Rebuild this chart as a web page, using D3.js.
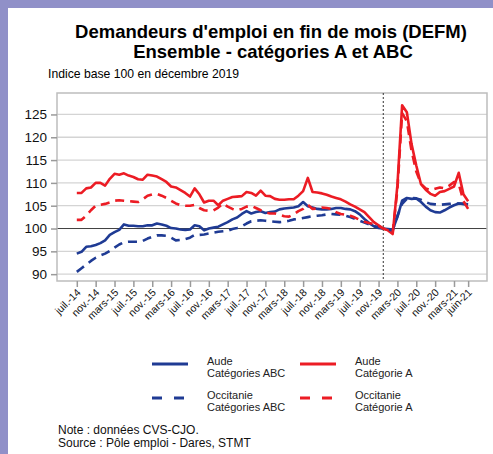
<!DOCTYPE html>
<html>
<head>
<meta charset="utf-8">
<script src="https://cdn.jsdelivr.net/npm/d3@7"></script>
<style>
  body { margin: 0; background: #fff; }
  svg { display: block; font-family: "Liberation Sans", Arial, sans-serif; }
</style>
</head>
<body>
<svg id="chart" width="493" height="454"></svg>
<script>
// monthly values, juil.-14 (index 0) to juin-21 (index 83)
const audeABC = [
  94.5, 94.9, 96.0, 96.1, 96.4, 96.8, 97.4, 98.6, 99.2, 99.7,
  100.9, 100.6, 100.6, 100.5, 100.5, 100.7, 100.7, 101.1, 100.9, 100.6,
  100.1, 100.0, 99.8, 99.7, 99.8, 100.7, 100.5, 99.6, 100.0, 100.2,
  100.4, 100.9, 101.4, 102.0, 102.4, 103.2, 103.8, 103.3, 103.6, 103.8,
  103.4, 103.6, 103.7, 104.2, 104.4, 104.5, 104.6, 104.9, 105.8, 104.9,
  104.6, 104.3, 104.2, 104.2, 104.3, 104.5, 104.5, 104.3, 104.2, 103.8,
  103.1, 102.1, 101.2, 100.5, 100.1, 100.0, 99.9, 99.8, 102.5, 106.1,
  106.7, 106.5, 106.6, 105.8, 104.8, 104.0, 103.6, 103.5, 104.0, 104.6,
  105.1, 105.5, 105.4, 105.3
];
const audeA = [
  107.8, 107.8, 108.8, 109.0, 110.0, 110.0, 109.4, 110.9, 112.0, 111.8,
  112.1, 111.6, 111.3, 110.8, 110.7, 111.8, 111.6, 111.4, 110.8, 110.2,
  109.2, 109.0, 108.4, 107.8, 107.0, 108.8, 107.5, 105.7, 106.1, 106.1,
  105.1, 106.1, 106.5, 106.9, 107.0, 107.1, 108.0, 107.8, 107.2, 108.3,
  107.2, 107.1, 106.5, 106.3, 106.3, 106.4, 106.4, 107.2, 108.2, 111.1,
  108.0, 107.9, 107.7, 107.4, 107.0, 106.7, 106.4, 105.9, 105.3, 104.8,
  104.2, 103.6, 102.5, 101.4, 100.7, 100.0, 99.6, 98.8, 109.5, 127.0,
  125.5, 118.5, 113.8, 109.7, 108.5, 107.6, 107.2, 108.0, 108.2, 108.7,
  109.2, 112.2, 107.5, 106.0
];
const occitanieABC = [
  90.5, 91.3, 92.1, 92.9, 93.6, 94.1, 94.5, 95.1, 95.8, 96.5,
  97.0, 97.1, 97.1, 97.1, 97.3, 97.8, 98.2, 98.5, 98.5, 98.4,
  98.0, 97.4, 97.5, 97.7, 98.0, 98.6, 98.6, 98.7, 98.9, 99.1,
  99.3, 99.4, 99.5, 99.9, 100.1, 100.5, 101.1, 101.6, 101.7, 101.8,
  101.7, 101.6, 101.5, 101.4, 101.5, 101.7, 102.0, 102.1, 102.3, 102.5,
  102.7, 102.8, 102.9, 103.1, 103.2, 103.1, 103.0, 102.8, 102.5, 102.1,
  101.7, 101.3, 100.9, 100.5, 100.3, 100.0, 99.8, 99.6, 102.8, 105.4,
  106.5, 106.7, 106.6, 106.3, 105.8, 105.4, 105.3, 105.2, 105.3, 105.4,
  105.5, 105.5, 105.4, 105.3
];
const occitanieA = [
  101.9, 101.9, 102.8, 104.0, 105.0, 105.2, 105.4, 105.7, 106.1, 106.2,
  106.1, 106.0, 105.9, 105.8, 106.4, 107.2, 107.5, 107.6, 107.2, 106.7,
  106.1, 105.5, 105.1, 105.0, 105.0, 105.2, 104.5, 104.0, 103.9, 104.0,
  104.6, 105.5, 104.8, 104.3, 104.0, 104.3, 104.8, 105.0, 104.5, 104.0,
  103.6, 103.3, 103.3, 103.0, 102.7, 102.6, 103.1, 103.8, 104.3, 105.2,
  104.3, 104.4, 104.6, 104.5, 104.3, 103.6, 103.2, 103.0, 102.8, 102.4,
  101.9, 101.5, 101.2, 101.0, 100.6, 100.0, 99.6, 99.2, 108.5, 125.3,
  123.5, 117.0, 112.5, 109.8, 108.8, 108.4, 108.7, 109.0, 108.8, 109.4,
  110.2, 109.8, 106.0, 104.3
];

const tickMonths = [0, 4, 8, 12, 16, 20, 24, 28, 32, 36, 40, 44, 48, 52, 56, 60, 64, 68, 72, 76, 80, 83];
const tickLabels = ['juil.-14', 'nov.-14', 'mars-15', 'juil.-15', 'nov.-15', 'mars-16', 'juil.-16',
  'nov.-16', 'mars-17', 'juil.-17', 'nov.-17', 'mars-18', 'juil.-18', 'nov.-18', 'mars-19',
  'juil.-19', 'nov.-19', 'mars-20', 'juil.-20', 'nov.-20', 'mars-21', 'juin-21'];
const yTicks = [90, 95, 100, 105, 110, 115, 120, 125];
const baseMonth = 65; // déc.-19

const blue = '#1f3b94';
const red = '#ec1c24';

const series = [
  { name: 'Aude', cat: 'Catégories ABC', values: audeABC, color: blue, dash: null },
  { name: 'Aude', cat: 'Catégorie A', values: audeA, color: red, dash: null },
  { name: 'Occitanie', cat: 'Catégories ABC', values: occitanieABC, color: blue, dash: '9,6' },
  { name: 'Occitanie', cat: 'Catégorie A', values: occitanieA, color: red, dash: '9,6' }
];

const svg = d3.select('#chart');

// purple page frame
svg.append('rect').attr('width', 493).attr('height', 454).attr('fill', '#9090c8');
svg.append('rect').attr('x', 8).attr('y', 8).attr('width', 485).attr('height', 446).attr('fill', '#fff');

// titles
svg.append('text').attr('x', 271).attr('y', 38).attr('text-anchor', 'middle')
  .attr('font-size', 18.5).attr('font-weight', 'bold').text("Demandeurs d'emploi en fin de mois (DEFM)");
svg.append('text').attr('x', 273).attr('y', 58).attr('text-anchor', 'middle')
  .attr('font-size', 18.5).attr('font-weight', 'bold').text('Ensemble - catégories A et ABC');
svg.append('text').attr('x', 48).attr('y', 78).attr('font-size', 12.2)
  .text('Indice base 100 en décembre 2019');

const pLeft = 57, pRight = 487, pTop = 93, pBottom = 281;

const x = d3.scaleLinear().domain([-4.2, 87]).range([pLeft, pRight]);
const y = d3.scaleLinear().domain([88.5, 129.7]).range([pBottom, pTop]);

// gridlines
svg.append('g').selectAll('line').data(yTicks).join('line')
  .attr('x1', pLeft).attr('x2', pRight)
  .attr('y1', d => y(d)).attr('y2', d => y(d))
  .attr('stroke', d => d === 100 ? '#404040' : '#d4d4d4')
  .attr('stroke-width', d => d === 100 ? 1 : 1.3);

// frame
svg.append('rect').attr('x', pLeft).attr('y', pTop).attr('width', pRight - pLeft).attr('height', pBottom - pTop)
  .attr('fill', 'none').attr('stroke', '#bdbdbd').attr('stroke-width', 1.5);

// y axis
const yAxis = svg.append('g').attr('transform', `translate(${pLeft},0)`)
  .call(d3.axisLeft(y).tickValues(yTicks).tickSize(6).tickPadding(4));
yAxis.select('.domain').remove();
yAxis.selectAll('line').attr('stroke', '#9a9a9a').attr('stroke-width', 1.5);
yAxis.selectAll('text').attr('font-size', 13.5).attr('fill', '#111').attr('font-family', 'Liberation Sans, Arial, sans-serif');

// x axis
const xAxis = svg.append('g').attr('transform', `translate(0,${pBottom})`)
  .call(d3.axisBottom(x).tickValues(tickMonths).tickSize(6).tickFormat((d, i) => tickLabels[i]));
xAxis.select('.domain').remove();
xAxis.selectAll('line').attr('stroke', '#9a9a9a').attr('stroke-width', 1.5);
xAxis.selectAll('text')
  .attr('font-size', 10.5).attr('fill', '#111').attr('font-family', 'Liberation Sans, Arial, sans-serif')
  .attr('text-anchor', 'end').attr('dy', null).attr('y', null)
  .attr('transform', 'translate(4,12) rotate(-45)');

// vertical line at base month
svg.append('line').attr('x1', x(baseMonth)).attr('x2', x(baseMonth))
  .attr('y1', pTop).attr('y2', pBottom)
  .attr('stroke', '#333').attr('stroke-width', 1).attr('stroke-dasharray', '2,2');

// series
const line = d3.line().x((d, i) => x(i)).y(d => y(d));
svg.append('g').selectAll('path').data(series).join('path')
  .attr('d', d => line(d.values))
  .attr('fill', 'none')
  .attr('stroke', d => d.color)
  .attr('stroke-width', 2.6)
  .attr('stroke-linejoin', 'round')
  .attr('stroke-dasharray', d => d.dash);

// legend
const legendPos = [
  { lx: 152, ty: 365 }, { lx: 300, ty: 365 },
  { lx: 152, ty: 399 }, { lx: 300, ty: 399 }
];
const legend = svg.append('g').selectAll('g').data(series).join('g')
  .attr('transform', (d, i) => `translate(${legendPos[i].lx},${legendPos[i].ty})`);
legend.append('line').attr('x1', 0).attr('x2', 36).attr('y1', -1).attr('y2', -1)
  .attr('stroke', d => d.color).attr('stroke-width', 2.8)
  .attr('stroke-dasharray', d => d.dash ? '10,12' : null);
legend.append('text').attr('x', 55).attr('y', 0).attr('font-size', 11).attr('fill', '#222').text(d => d.name);
legend.append('text').attr('x', 55).attr('y', 12).attr('font-size', 11).attr('fill', '#222').text(d => d.cat);

// notes
svg.append('text').attr('x', 58).attr('y', 434).attr('font-size', 12).attr('fill', '#111')
  .text('Note : données CVS-CJO.');
svg.append('text').attr('x', 58).attr('y', 447).attr('font-size', 12).attr('fill', '#111')
  .text('Source : Pôle emploi - Dares, STMT');
</script>
</body>
</html>
